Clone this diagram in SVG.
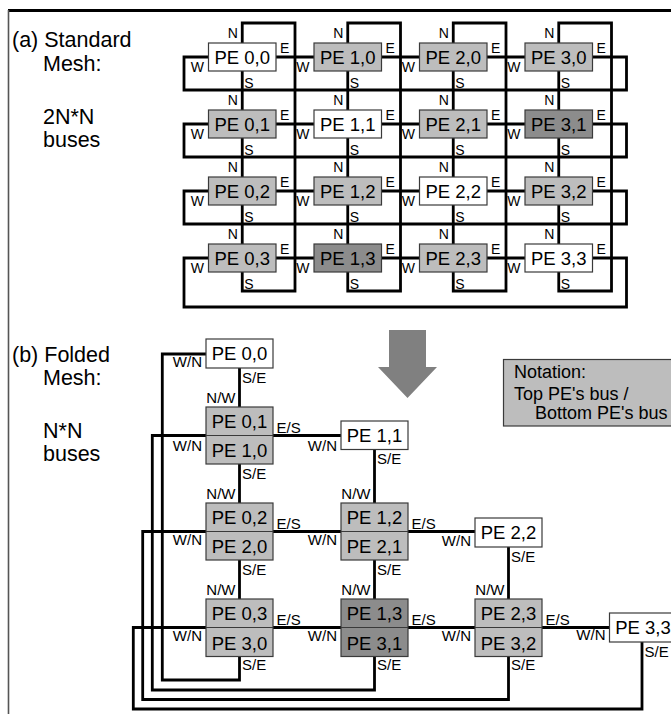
<svg xmlns="http://www.w3.org/2000/svg" width="671" height="714" viewBox="0 0 671 714">
<style>
text{font-family:"Liberation Sans",Arial,sans-serif;fill:#000}
.pe{font-size:18.5px;text-anchor:middle}
.lb{font-size:14px}
.lb2{font-size:15px}
.end{text-anchor:end}
.title{font-size:21.5px}
.nt{font-size:18px}
.bx{stroke:#3a3a3a;stroke-width:1.2}
.w{fill:#fff}
.g{fill:#bdbdbd}
.d{fill:#8c8c8c}
.ln{fill:none;stroke:#000;stroke-width:2.8;stroke-linejoin:miter;stroke-linecap:square}
</style>
<rect width="671" height="714" fill="#fff"/>
<g id="frame">
<line x1="8" y1="10.5" x2="671" y2="10.5" stroke="#000" stroke-width="3"/>
<line x1="8.5" y1="10" x2="8.5" y2="714" stroke="#555" stroke-width="1.6"/>
</g>
<g id="captions">
<text class="title" x="12" y="47">(a) Standard</text>
<text class="title" x="43" y="71">Mesh:</text>
<text class="title" x="43" y="124">2N*N</text>
<text class="title" x="43" y="147">buses</text>
<text class="title" x="12" y="362">(b) Folded</text>
<text class="title" x="43" y="385">Mesh:</text>
<text class="title" x="43" y="438">N*N</text>
<text class="title" x="43" y="461">buses</text>
</g>
<g id="connectors">
<path class="ln" d="M242.25 43V23H295V291H242.25V272"/>
<path class="ln" d="M347.75 43V23H400.5V291H347.75V272"/>
<path class="ln" d="M453.25 43V23H506V291H453.25V272"/>
<path class="ln" d="M558.75 43V23H611.5V291H558.75V272"/>
<path class="ln" d="M242.25 71V110M242.25 138V177M242.25 205V244"/>
<path class="ln" d="M347.75 71V110M347.75 138V177M347.75 205V244"/>
<path class="ln" d="M453.25 71V110M453.25 138V177M453.25 205V244"/>
<path class="ln" d="M558.75 71V110M558.75 138V177M558.75 205V244"/>
<path class="ln" d="M276 57H314M381.5 57H419.5M487 57H525"/>
<path class="ln" d="M276 124H314M381.5 124H419.5M487 124H525"/>
<path class="ln" d="M276 191H314M381.5 191H419.5M487 191H525"/>
<path class="ln" d="M276 258H314M381.5 258H419.5M487 258H525"/>
<path class="ln" d="M208.5 57H184V90H626.5V57H592.5"/>
<path class="ln" d="M208.5 124H184V157H626.5V124H592.5"/>
<path class="ln" d="M208.5 191H184V224H626.5V191H592.5"/>
<path class="ln" d="M208.5 258H184V307H626.5V258H592.5"/>
<path class="ln" d="M239.5 368V407M239.5 464V503M239.5 560V599M374.5 449.5V503M374.5 560V599M508.5 547V599"/>
<path class="ln" d="M273 435.5H341M273 531.5H475M273 627.5H609.5"/>
<path class="ln" d="M206 354H162.3V680H239.5V656.5"/>
<path class="ln" d="M206 435.5H152.3V690H374.5V656.5"/>
<path class="ln" d="M206 531.5H142.7V699.5H508.5V656.5"/>
<path class="ln" d="M206 627.5H133.3V709H642V642"/>
</g>
<g id="mesh-labels" class="lb">
<text class="end" x="237.75" y="38">N</text><text x="280" y="53">E</text><text class="end" x="204" y="72">W</text><text x="244.25" y="88">S</text>
<text class="end" x="343.25" y="38">N</text><text x="385.5" y="53">E</text><text class="end" x="309.5" y="72">W</text><text x="349.75" y="88">S</text>
<text class="end" x="448.75" y="38">N</text><text x="491" y="53">E</text><text class="end" x="415" y="72">W</text><text x="455.25" y="88">S</text>
<text class="end" x="554.25" y="38">N</text><text x="596.5" y="53">E</text><text class="end" x="520.5" y="72">W</text><text x="560.75" y="88">S</text>
<text class="end" x="237.75" y="105">N</text><text x="280" y="120">E</text><text class="end" x="204" y="139">W</text><text x="244.25" y="155">S</text>
<text class="end" x="343.25" y="105">N</text><text x="385.5" y="120">E</text><text class="end" x="309.5" y="139">W</text><text x="349.75" y="155">S</text>
<text class="end" x="448.75" y="105">N</text><text x="491" y="120">E</text><text class="end" x="415" y="139">W</text><text x="455.25" y="155">S</text>
<text class="end" x="554.25" y="105">N</text><text x="596.5" y="120">E</text><text class="end" x="520.5" y="139">W</text><text x="560.75" y="155">S</text>
<text class="end" x="237.75" y="172">N</text><text x="280" y="187">E</text><text class="end" x="204" y="206">W</text><text x="244.25" y="222">S</text>
<text class="end" x="343.25" y="172">N</text><text x="385.5" y="187">E</text><text class="end" x="309.5" y="206">W</text><text x="349.75" y="222">S</text>
<text class="end" x="448.75" y="172">N</text><text x="491" y="187">E</text><text class="end" x="415" y="206">W</text><text x="455.25" y="222">S</text>
<text class="end" x="554.25" y="172">N</text><text x="596.5" y="187">E</text><text class="end" x="520.5" y="206">W</text><text x="560.75" y="222">S</text>
<text class="end" x="237.75" y="239">N</text><text x="280" y="254">E</text><text class="end" x="204" y="273">W</text><text x="244.25" y="289">S</text>
<text class="end" x="343.25" y="239">N</text><text x="385.5" y="254">E</text><text class="end" x="309.5" y="273">W</text><text x="349.75" y="289">S</text>
<text class="end" x="448.75" y="239">N</text><text x="491" y="254">E</text><text class="end" x="415" y="273">W</text><text x="455.25" y="289">S</text>
<text class="end" x="554.25" y="239">N</text><text x="596.5" y="254">E</text><text class="end" x="520.5" y="273">W</text><text x="560.75" y="289">S</text>
</g>
<g id="pe-0-0"><rect class="bx w" x="208.5" y="43" width="67.5" height="28"/><text class="pe" x="242.25" y="63.5">PE 0,0</text></g>
<g id="pe-1-0"><rect class="bx g" x="314" y="43" width="67.5" height="28"/><text class="pe" x="347.75" y="63.5">PE 1,0</text></g>
<g id="pe-2-0"><rect class="bx g" x="419.5" y="43" width="67.5" height="28"/><text class="pe" x="453.25" y="63.5">PE 2,0</text></g>
<g id="pe-3-0"><rect class="bx g" x="525" y="43" width="67.5" height="28"/><text class="pe" x="558.75" y="63.5">PE 3,0</text></g>
<g id="pe-0-1"><rect class="bx g" x="208.5" y="110" width="67.5" height="28"/><text class="pe" x="242.25" y="130.5">PE 0,1</text></g>
<g id="pe-1-1"><rect class="bx w" x="314" y="110" width="67.5" height="28"/><text class="pe" x="347.75" y="130.5">PE 1,1</text></g>
<g id="pe-2-1"><rect class="bx g" x="419.5" y="110" width="67.5" height="28"/><text class="pe" x="453.25" y="130.5">PE 2,1</text></g>
<g id="pe-3-1"><rect class="bx d" x="525" y="110" width="67.5" height="28"/><text class="pe" x="558.75" y="130.5">PE 3,1</text></g>
<g id="pe-0-2"><rect class="bx g" x="208.5" y="177" width="67.5" height="28"/><text class="pe" x="242.25" y="197.5">PE 0,2</text></g>
<g id="pe-1-2"><rect class="bx g" x="314" y="177" width="67.5" height="28"/><text class="pe" x="347.75" y="197.5">PE 1,2</text></g>
<g id="pe-2-2"><rect class="bx w" x="419.5" y="177" width="67.5" height="28"/><text class="pe" x="453.25" y="197.5">PE 2,2</text></g>
<g id="pe-3-2"><rect class="bx g" x="525" y="177" width="67.5" height="28"/><text class="pe" x="558.75" y="197.5">PE 3,2</text></g>
<g id="pe-0-3"><rect class="bx g" x="208.5" y="244" width="67.5" height="28"/><text class="pe" x="242.25" y="264.5">PE 0,3</text></g>
<g id="pe-1-3"><rect class="bx d" x="314" y="244" width="67.5" height="28"/><text class="pe" x="347.75" y="264.5">PE 1,3</text></g>
<g id="pe-2-3"><rect class="bx g" x="419.5" y="244" width="67.5" height="28"/><text class="pe" x="453.25" y="264.5">PE 2,3</text></g>
<g id="pe-3-3"><rect class="bx w" x="525" y="244" width="67.5" height="28"/><text class="pe" x="558.75" y="264.5">PE 3,3</text></g>
<g id="arrow"><path d="M389 330H426V367H437L407.5 398L378 367H389Z" fill="#808080"/></g>
<g id="notation"><rect class="bx g" x="503.5" y="359.5" width="180" height="66.5"/>
<text class="nt" x="514" y="378">Notation:</text>
<text class="nt" x="514" y="400">Top PE's bus /</text>
<text class="nt" x="535" y="419">Bottom PE's bus</text></g>
<g id="folded-labels" class="lb2">
<text class="end" x="202" y="367">W/N</text><text x="242" y="382.5">S/E</text>
<text class="end" x="235.5" y="402.5">N/W</text><text x="276.5" y="432.5">E/S</text><text class="end" x="202" y="450.5">W/N</text><text x="242" y="479">S/E</text>
<text class="end" x="337" y="450.5">W/N</text><text x="377" y="464">S/E</text>
<text class="end" x="235.5" y="498.5">N/W</text><text x="276.5" y="528.5">E/S</text><text class="end" x="202" y="544.5">W/N</text><text x="242" y="575">S/E</text>
<text class="end" x="370.5" y="498.5">N/W</text><text x="411.5" y="528.5">E/S</text><text class="end" x="337" y="544.5">W/N</text><text x="377" y="575">S/E</text>
<text class="end" x="471" y="545.5">W/N</text><text x="511" y="561.5">S/E</text>
<text class="end" x="235.5" y="594.5">N/W</text><text x="276.5" y="624.5">E/S</text><text class="end" x="202" y="640.5">W/N</text><text x="242" y="670">S/E</text>
<text class="end" x="370.5" y="594.5">N/W</text><text x="411.5" y="624.5">E/S</text><text class="end" x="337" y="640.5">W/N</text><text x="377" y="670">S/E</text>
<text class="end" x="504.5" y="594.5">N/W</text><text x="545.5" y="624.5">E/S</text><text class="end" x="471" y="640.5">W/N</text><text x="511" y="670">S/E</text>
<text class="end" x="605.5" y="640">W/N</text><text x="644.5" y="656.5">S/E</text>
</g>
<g id="f-pe-0-0"><rect class="bx w" x="206" y="339" width="67" height="29"/><text class="pe" x="239.5" y="360">PE 0,0</text></g>
<g id="f-pe-01-10"><rect class="bx g" x="206" y="407" width="67" height="57"/><line class="bx" x1="206" y1="435.5" x2="273" y2="435.5"/><text class="pe" x="239.5" y="428">PE 0,1</text><text class="pe" x="239.5" y="457">PE 1,0</text></g>
<g id="f-pe-1-1"><rect class="bx w" x="341" y="421" width="67" height="28.5"/><text class="pe" x="374.5" y="441.5">PE 1,1</text></g>
<g id="f-pe-02-20"><rect class="bx g" x="206" y="503" width="67" height="57"/><line class="bx" x1="206" y1="531.5" x2="273" y2="531.5"/><text class="pe" x="239.5" y="524">PE 0,2</text><text class="pe" x="239.5" y="553">PE 2,0</text></g>
<g id="f-pe-12-21"><rect class="bx g" x="341" y="503" width="67" height="57"/><line class="bx" x1="341" y1="531.5" x2="408" y2="531.5"/><text class="pe" x="374.5" y="524">PE 1,2</text><text class="pe" x="374.5" y="553">PE 2,1</text></g>
<g id="f-pe-2-2"><rect class="bx w" x="475" y="518" width="67" height="29"/><text class="pe" x="508.5" y="539">PE 2,2</text></g>
<g id="f-pe-03-30"><rect class="bx g" x="206" y="599" width="67" height="57.5"/><line class="bx" x1="206" y1="627.5" x2="273" y2="627.5"/><text class="pe" x="239.5" y="620">PE 0,3</text><text class="pe" x="239.5" y="649.5">PE 3,0</text></g>
<g id="f-pe-13-31"><rect class="bx d" x="341" y="599" width="67" height="57.5"/><line class="bx" x1="341" y1="627.5" x2="408" y2="627.5"/><text class="pe" x="374.5" y="620">PE 1,3</text><text class="pe" x="374.5" y="649.5">PE 3,1</text></g>
<g id="f-pe-23-32"><rect class="bx g" x="475" y="599" width="67" height="57.5"/><line class="bx" x1="475" y1="627.5" x2="542" y2="627.5"/><text class="pe" x="508.5" y="620">PE 2,3</text><text class="pe" x="508.5" y="649.5">PE 3,2</text></g>
<g id="f-pe-3-3"><rect class="bx w" x="609.5" y="613" width="67" height="29"/><text class="pe" x="643" y="634">PE 3,3</text></g>
</svg>
